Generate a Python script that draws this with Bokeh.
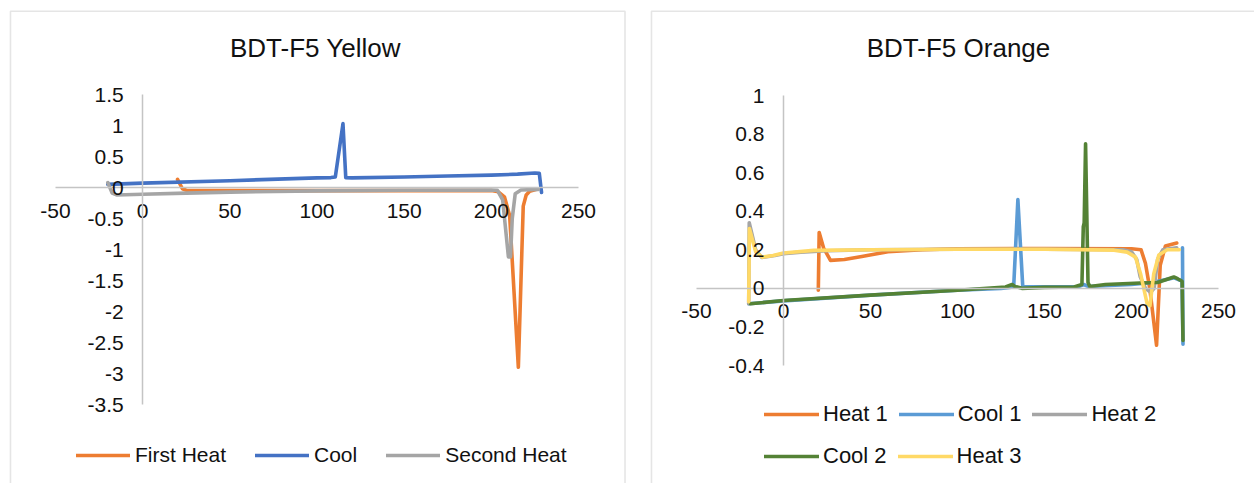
from bokeh.plotting import figure
from bokeh.models import (Range1d, FixedTicker, CustomJSTickFormatter, Legend,
                          LegendItem, Label, BoxAnnotation)
from bokeh.layouts import row
from bokeh.embed import file_html
from bokeh.resources import INLINE

FONT = "Liberation Sans"
TXT = "#111111"

# ---------------- Left chart: BDT-F5 Yellow ----------------
left_title = "BDT-F5 Yellow"
left_xticks = [-50, 0, 50, 100, 150, 200, 250]
left_yticks = [-3.5, -3, -2.5, -2, -1.5, -1, -0.5, 0, 0.5, 1, 1.5]

first_heat_x = [20, 22.8, 25.6, 50, 100, 150, 200, 204, 207.5, 210.5, 215.5, 218.3, 220, 222, 226]
first_heat_y = [0.13, -0.02, -0.05, -0.05, -0.05, -0.05, -0.05, -0.07, -0.15, -0.45, -2.9, -0.3, -0.12, -0.06, -0.03]

cool_x = [228.8, 227.5, 225, 215, 200, 175, 150, 120, 116.5, 114.9, 110.5, 108, 100, 50, 0, -20]
cool_y = [-0.08, 0.23, 0.235, 0.215, 0.2, 0.185, 0.17, 0.155, 0.16, 1.03, 0.17, 0.16, 0.155, 0.11, 0.07, 0.05]

second_heat_x = [-20, -17.5, -15, 0, 25, 50, 100, 150, 200, 203.5, 206.5, 209.8, 211.0, 212.0, 213.7, 217, 227]
second_heat_y = [0.08, -0.09, -0.12, -0.11, -0.09, -0.075, -0.055, -0.045, -0.04, -0.045, -0.2, -1.12, -1.12, -0.5, -0.1, -0.04, -0.03]

# ---------------- Right chart: BDT-F5 Orange ----------------
right_title = "BDT-F5 Orange"
right_xticks = [-50, 0, 50, 100, 150, 200, 250]
right_yticks = [-0.4, -0.2, 0, 0.2, 0.4, 0.6, 0.8, 1]

heat1_x = [20, 20.5, 23, 27, 35, 45, 60, 80, 100, 150, 200, 205.5, 208, 210.5, 214.4, 216.5, 219.5, 226]
heat1_y = [-0.01, 0.29, 0.21, 0.145, 0.15, 0.165, 0.19, 0.2, 0.205, 0.207, 0.205, 0.2, 0.13, 0.0, -0.295, 0.12, 0.22, 0.235]

cool1_x = [229.3, 229.6, 229, 227, 224.5, 222, 212, 200, 175, 172.5, 170, 150, 137.5, 134.7, 132.3, 130, 125, 100, 50, 0, -20]
cool1_y = [0.21, -0.29, 0.04, 0.045, 0.055, 0.05, 0.03, 0.02, 0.01, 0.02, 0.01, 0.008, 0.01, 0.46, 0.01, 0.005, 0.0, -0.01, -0.035, -0.065, -0.08]

heat2_x = [-20, -19.7, -16, -12.5, -5, 0, 10, 25, 50, 100, 150, 195, 200, 203, 205, 208, 211, 213, 215, 218, 226]
heat2_y = [-0.08, 0.34, 0.2, 0.16, 0.17, 0.18, 0.188, 0.195, 0.2, 0.203, 0.203, 0.2, 0.19, 0.15, 0.06, 0.0, -0.02, 0.0, 0.15, 0.2, 0.21]

cool2_x = [229.6, 229.1, 226.5, 224.3, 215, 205, 185, 176, 175, 173.6, 172.8, 172.3, 171.5, 167, 150, 137, 133, 131.4, 127.6, 100, 50, 0, -19]
cool2_y = [-0.27, 0.037, 0.05, 0.059, 0.03, 0.028, 0.02, 0.01, 0.03, 0.75, 0.34, 0.32, 0.02, 0.007, 0.005, 0.0, 0.01, 0.02, 0.007, -0.01, -0.035, -0.063, -0.08]

heat3_x = [-20, -19.6, -16, -12.3, -6, 0, 17.4, 52, 100, 150, 190, 197.5, 202.3, 205.2, 209, 210.6, 212.8, 215.7, 220.5, 227.5]
heat3_y = [-0.07, 0.31, 0.19, 0.162, 0.17, 0.183, 0.197, 0.2, 0.203, 0.203, 0.198, 0.188, 0.162, 0.076, -0.08, -0.09, 0.076, 0.173, 0.2, 0.2]

H = 483


def make_chart(width, xa, xb, pxa, pxb, ya, yb, pya, pyb, xticks, yticks,
               border_px, title, title_px):
    kx = (pxb - pxa) / (xb - xa)
    ky = (pya - pyb) / (yb - ya)
    fx = lambda px: xa + (px - pxa) / kx
    fy = lambda py: ya + (pya - py) / ky
    p = figure(width=width, height=H, x_range=Range1d(fx(0), fx(width)),
               y_range=Range1d(fy(H), fy(0)), output_backend="svg",
               toolbar_location=None, title=None, min_border=0,
               outline_line_color=None, background_fill_color="white",
               border_fill_color="white")
    p.xgrid.visible = False
    p.ygrid.visible = False
    fmt = "return tick.toString()"
    for ax, ticks, bnds, so in ((p.xaxis, xticks, (xticks[0], xticks[-1]), 16),
                               (p.yaxis, yticks, (yticks[0], yticks[-1]), 19)):
        ax.fixed_location = 0
        ax.bounds = bnds
        ax.ticker = FixedTicker(ticks=ticks)
        ax.formatter = CustomJSTickFormatter(code=fmt)
        ax.major_tick_line_color = None
        ax.minor_tick_line_color = None
        ax.major_tick_out = 0
        ax.major_tick_in = 0
        ax.minor_tick_out = 0
        ax.minor_tick_in = 0
        ax.axis_line_color = "#C4C4C4"
        ax.axis_line_width = 1.5
        ax.major_label_text_font = FONT
        ax.major_label_text_font_size = "21px"
        ax.major_label_text_color = TXT
        ax.major_label_standoff = so
    bl, br, bt = border_px
    p.add_layout(BoxAnnotation(left=fx(bl), right=fx(br), top=fy(bt), bottom=fy(H + 20),
                               fill_color=None, line_color="#A8A8A8", line_width=1.6))
    p.add_layout(Label(x=fx(title_px[0]), y=fy(title_px[1]), text=title,
                       text_align="center", text_baseline="middle",
                       text_font=FONT, text_font_size="26px", text_color=TXT))
    return p


def add_legend(p, items, loc, fsize, glyph_w, standoff, spacing):
    lg = Legend(items=items, location=loc, orientation="horizontal",
                glyph_width=glyph_w, glyph_height=20, label_standoff=standoff,
                spacing=spacing, padding=0, margin=0, border_line_color=None,
                background_fill_alpha=0, label_text_font=FONT,
                label_text_font_size=fsize, label_text_color=TXT,
                label_height=20)
    p.add_layout(lg)


LW = 3.6

# left
pl = make_chart(637, -50, 250, 55, 578, -3.5, 1.5, 404, 94, left_xticks, left_yticks,
                (10, 624.5, 10.8), left_title, (315, 47))
r1 = pl.line(first_heat_x, first_heat_y, line_color="#ED7D31", line_width=LW, line_join="round", line_cap="round")
r2 = pl.line(cool_x, cool_y, line_color="#4472C4", line_width=LW, line_join="round", line_cap="round")
r3 = pl.line(second_heat_x, second_heat_y, line_color="#A5A5A5", line_width=LW, line_join="round", line_cap="round")
add_legend(pl, [LegendItem(label="First Heat", renderers=[r1]),
                LegendItem(label="Cool", renderers=[r2]),
                LegendItem(label="Second Heat", renderers=[r3])],
           (76, 16), "21px", 54, 5, 29)

# right
pr = make_chart(617, -50, 250, 59, 581, -0.4, 1, 365, 95, right_xticks, right_yticks,
                (14, 700, 10.8), right_title, (321, 47))
s1 = pr.line(heat1_x, heat1_y, line_color="#ED7D31", line_width=LW, line_join="round", line_cap="round")
s2 = pr.line(cool1_x, cool1_y, line_color="#5B9BD5", line_width=LW, line_join="round", line_cap="round")
s3 = pr.line(heat2_x, heat2_y, line_color="#A5A5A5", line_width=LW, line_join="round", line_cap="round")
s4 = pr.line(cool2_x, cool2_y, line_color="#548235", line_width=LW, line_join="round", line_cap="round")
s5 = pr.line(heat3_x, heat3_y, line_color="#FFD966", line_width=LW, line_join="round", line_cap="round")
add_legend(pr, [LegendItem(label="Heat 1", renderers=[s1]),
                LegendItem(label="Cool 1", renderers=[s2]),
                LegendItem(label="Heat 2", renderers=[s3])],
           (127, 56), "22px", 55, 4, 11)
add_legend(pr, [LegendItem(label="Cool 2", renderers=[s4]),
                LegendItem(label="Heat 3", renderers=[s5])],
           (127, 14), "22px", 55, 4, 11)

layout = row(pl, pr)
open("out.html", "w").write(file_html(layout, INLINE))
